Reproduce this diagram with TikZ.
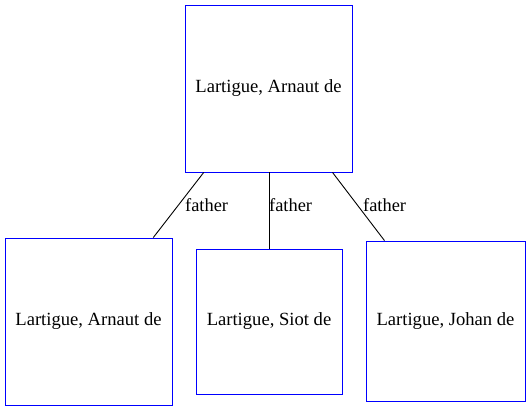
\documentclass[tikz,border=0pt]{standalone}
\usepackage{fontspec}
\setmainfont{Liberation Serif}
\begin{document}
\begin{tikzpicture}[x=1pt,y=1pt,
  person/.style={draw=blue,line width=0.9pt,inner sep=0pt,font=\fontsize{18.6}{20}\selectfont},
  rel/.style={draw=black,line width=0.9pt},
  lbl/.style={font=\fontsize{18.4}{20}\selectfont,inner sep=0pt}]
\useasboundingbox (0,0) rectangle (531,411);
\node[person,minimum width=167,minimum height=167] (top) at (268.5,322.5) {Lartigue, Arnaut de};
\node[person,minimum width=167,minimum height=167] (left) at (88.5,89.5) {Lartigue, Arnaut de};
\node[person,minimum width=146,minimum height=145] (mid) at (269,89.5) {Lartigue, Siot de};
\node[person,minimum width=159,minimum height=160] (right) at (445.5,90) {Lartigue, Johan de};
\draw[rel] (top) -- (left);
\draw[rel] (top.south -| mid) -- (mid);
\draw[rel] (top) -- (right);
\node[lbl,anchor=west] (l1) at (185,206) {father};
\node[lbl,anchor=west] (l2) at (269,206) {father};
\node[lbl,anchor=west] (l3) at (363,206) {father};
\end{tikzpicture}
\end{document}
